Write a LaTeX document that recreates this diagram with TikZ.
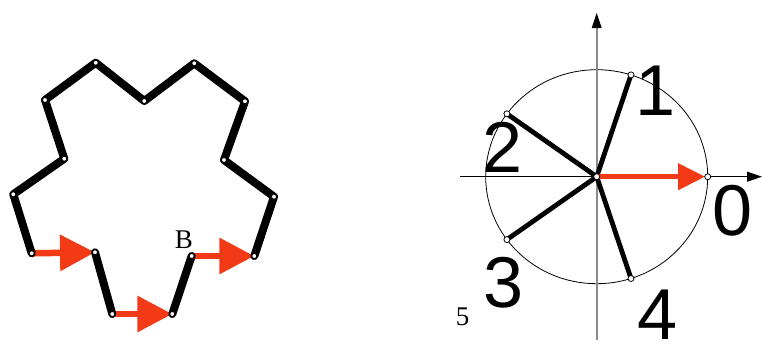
\documentclass[tikz,border=0pt]{standalone}
\usepackage{fontspec}
\newfontfamily\digitfont{Liberation Sans}
\newfontfamily\labelfont{Liberation Serif}
\usetikzlibrary{arrows.meta}
\definecolor{arrowred}{RGB}{242,58,22}
\begin{document}
\begin{tikzpicture}[x=1pt,y=-1pt,
  blk/.style={draw=black, line width=8pt, line cap=round, line join=round},
  redarrow/.style={draw=arrowred, line width=6.5pt, -{Triangle[length=35pt,width=35pt]}},
  vtx/.style={circle, fill=white, draw=black, line width=1.3pt, inner sep=0pt, minimum size=5.5pt},
  rvtx/.style={circle, fill=white, draw=black, line width=0.8pt, inner sep=0pt, minimum size=6pt},
  spoke/.style={draw=black, line width=4.8pt},
  rredarrow/.style={draw=arrowred, line width=4.5pt, -{Triangle[length=27pt,width=26pt]}},
  bigdigit/.style={font=\digitfont\fontsize{72}{72}\selectfont, inner sep=0pt},
  serifl/.style={font=\labelfont\fontsize{27}{27}\selectfont, inner sep=0pt},
  axisarrow/.style={-{Triangle[length=15pt,width=10pt]}}
]
\useasboundingbox (0,0) rectangle (762,343);

% ---------- left star ----------
\coordinate (v1) at (31.7,253.3);
\coordinate (v2) at (95,252.3);
\coordinate (v3) at (112.3,314);
\coordinate (v4) at (172.3,314);
\coordinate (v5) at (191.7,256);
\coordinate (v6) at (254.3,256);
\coordinate (v7) at (274,196.7);
\coordinate (v8) at (224,160);
\coordinate (v9) at (245,101.3);
\coordinate (v10) at (194.3,63.3);
\coordinate (v11) at (144.3,101);
\coordinate (v12) at (95.7,62.7);
\coordinate (v13) at (45,100);
\coordinate (v14) at (64.3,158.7);
\coordinate (v15) at (13.3,194.3);

\draw[redarrow] (v1) -- (v2);
\draw[redarrow] (v3) -- (v4);
\draw[redarrow] (v5) -- (v6);

\draw[blk] (v2) -- (v3);
\draw[blk] (v4) -- (v5);
\draw[blk] (v6) -- (v7) -- (v8) -- (v9) -- (v10) -- (v11) -- (v12) -- (v13) -- (v14) -- (v15) -- (v1);

\foreach \i in {1,...,15} {
  \node[vtx] (n\i) at (v\i) {};
}

\node[serifl] (labB) at (184,239.5) {B};

% ---------- right circle ----------
\coordinate (c) at (596.7,176.7);
\coordinate (xl) at (460,176.7);
\coordinate (xr) at (762,176.7);
\coordinate (yb) at (596.7,340);
\coordinate (yt) at (596.7,13);

\draw[black, line width=0.8pt] (c) ellipse [x radius=111, y radius=107];
\draw[black, line width=0.9pt, axisarrow] (xl) -- (xr);
\draw[black!45, line width=1.6pt] (yb) -- (596.7,28);
\fill[black] (yt) -- (591.7,28) -- (601.7,28) -- cycle;

\coordinate (p0) at (707.7,176.7);
\coordinate (p1) at (631,74.9);
\coordinate (p2) at (506.9,113.8);
\coordinate (p3) at (506.9,239.6);
\coordinate (p4) at (631,278.5);

\draw[spoke] (c) -- (p1);
\draw[spoke] (c) -- (p2);
\draw[spoke] (c) -- (p3);
\draw[spoke] (c) -- (p4);
\draw[rredarrow] (c) -- (705,176.7);

\node[rvtx] (q0) at (p0) {};
\node[rvtx] (q1) at (p1) {};
\node[rvtx] (q2) at (p2) {};
\node[rvtx] (q3) at (p3) {};
\node[rvtx] (q4) at (p4) {};
\node[rvtx] (qc) at (c) {};

\node[bigdigit] (l1) at (656,91) {1};
\node[bigdigit] (l2) at (502.5,147.8) {2};
\node[bigdigit] (l0) at (732.5,210.5) {0};
\node[bigdigit] (l3) at (504,282.3) {3};
\node[bigdigit] (l4) at (658,315) {4};
\node[serifl] (l5) at (462.5,316.5) {5};
\end{tikzpicture}
\end{document}
